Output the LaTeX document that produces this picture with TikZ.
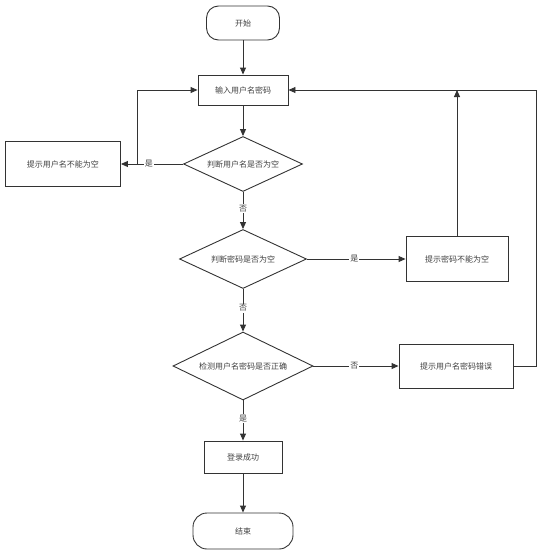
\documentclass[tikz,border=0pt]{standalone}
\usepackage{fontspec}
\usepackage{tikz}
\usetikzlibrary{arrows.meta,shapes.geometric}
\newfontfamily\cjk{Noto Sans CJK SC}
\definecolor{linegray}{HTML}{333333}
\tikzset{
    flow-line/.style = {draw=linegray, line width=0.9pt, -{Triangle[length=7pt,width=6pt]}},
    plain-line/.style = {draw=linegray, line width=0.9pt},
    start-end/.style = {draw=linegray, line width=0.9pt, rectangle, rounded corners=12pt, font=\cjk\fontsize{8}{10}\selectfont, text=black!75},
    step-box/.style = {draw=linegray, line width=0.9pt, rectangle, font=\cjk\fontsize{8}{10}\selectfont, text=black!75},
    check-box/.style = {draw=linegray, line width=0.9pt, diamond, aspect=2.1, inner sep=0pt, font=\cjk\fontsize{8}{10}\selectfont, text=black!75},
    edge-label/.style = {fill=white, inner sep=1pt, font=\cjk\fontsize{8}{10}\selectfont, text=black!75},
}

\begin{document}
\begin{tikzpicture}[x=1pt, y=-1pt]
\useasboundingbox (0,0) rectangle (546,554);
% nodes
\node[start-end, minimum width=73pt, minimum height=34pt] (start) at (243,23) {开始};
\node[step-box, minimum width=90pt, minimum height=30pt] (input) at (243,90) {输入用户名密码};
\node[check-box, minimum width=119pt, minimum height=55pt] (check-name) at (243,164) {判断用户名是否为空};
\node[step-box, minimum width=115pt, minimum height=45pt] (tip-name) at (63,164) {提示用户名不能为空};
\node[check-box, minimum width=127pt, minimum height=59pt] (check-pwd) at (243,259) {判断密码是否为空};
\node[step-box, minimum width=102pt, minimum height=45pt] (tip-pwd) at (457,259) {提示密码不能为空};
\node[check-box, minimum width=140pt, minimum height=68pt] (check-both) at (243,366) {检测用户名密码是否正确};
\node[step-box, minimum width=114pt, minimum height=44pt] (tip-wrong) at (456,366) {提示用户名密码错误};
\node[step-box, minimum width=78pt, minimum height=32pt] (login) at (243,457) {登录成功};
\node[start-end, minimum width=100pt, minimum height=36pt, rounded corners=14pt] (stop) at (243,531) {结束};
% helper points
\coordinate (left-turn) at (137,164);
\coordinate (pwd-join) at (457,90);
\coordinate (right-top) at (536,90);
\coordinate (right-bottom) at (536,366);
% main line
\draw[flow-line] (start) -- (input);
\draw[flow-line] (input) -- (check-name);
\draw[flow-line] (check-name) -- node[edge-label, pos=0.45] {否} (check-pwd);
\draw[flow-line] (check-pwd) -- node[edge-label, pos=0.45] {否} (check-both);
\draw[flow-line] (check-both) -- node[edge-label, pos=0.45] {是} (login);
\draw[flow-line] (login) -- (stop);
% branches
\draw[flow-line] (check-name) -- node[edge-label, pos=0.55] {是} (tip-name);
\draw[flow-line] (left-turn) |- (input);
\draw[flow-line] (check-pwd) -- node[edge-label, pos=0.48] {是} (tip-pwd);
\draw[flow-line] (tip-pwd) -- (pwd-join);
\draw[flow-line] (check-both) -- node[edge-label, pos=0.48] {否} (tip-wrong);
\draw[plain-line] (tip-wrong) -- (right-bottom) -- (right-top);
\draw[flow-line] (right-top) -- (input);
\end{tikzpicture}
\end{document}
